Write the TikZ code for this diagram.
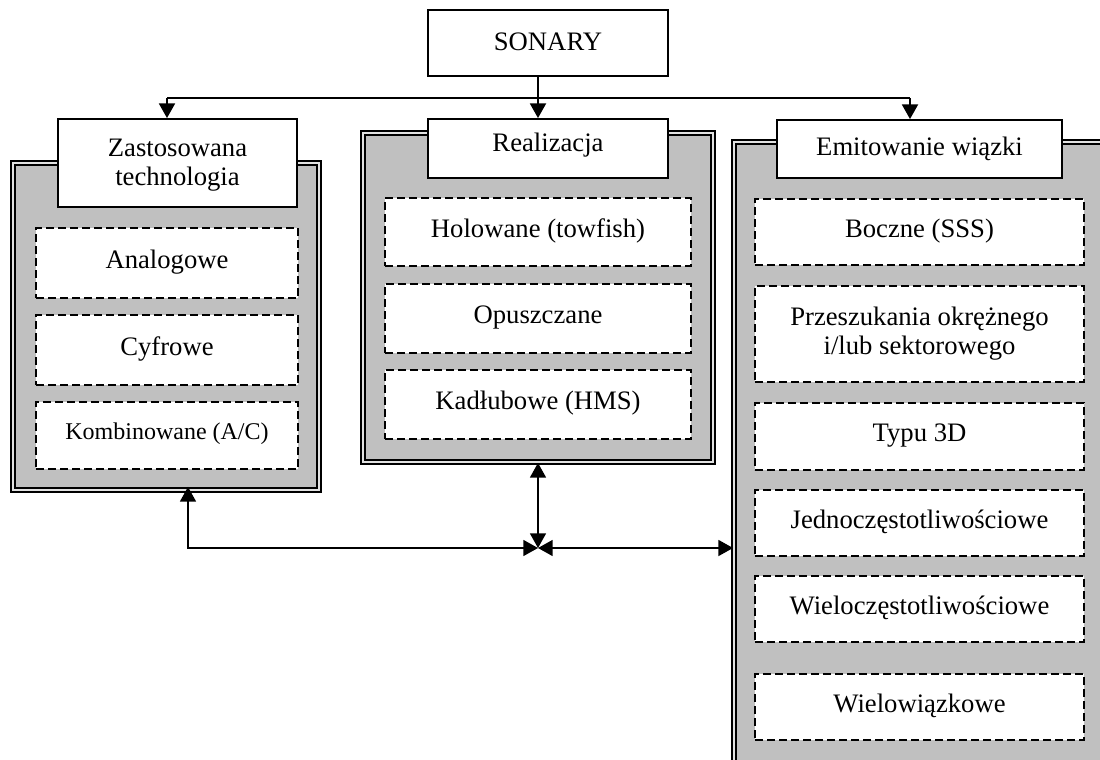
\documentclass[tikz,border=0pt]{standalone}
\usepackage{fontspec}
\setmainfont{Liberation Serif}
\usetikzlibrary{arrows.meta,calc,fit}
\definecolor{framefill}{RGB}{192,192,192}
\definecolor{framegap}{RGB}{226,226,226}
\begin{document}
\begin{tikzpicture}[x=0.75pt,y=-0.75pt,
  frame/.style={draw=black, line width=1.4pt, double=framegap, double distance=1.5pt, fill=framefill, inner sep=0pt},
  headbox/.style={draw=black, line width=1.4pt, fill=white, inner sep=0pt},
  itembox/.style={draw=black, line width=1.4pt, dash pattern=on 6pt off 3pt, fill=white, inner sep=0pt},
  txt/.style={anchor=base, inner sep=0pt, font=\fontsize{20}{24}\selectfont},
  smalltxt/.style={anchor=base, inner sep=0pt, font=\fontsize{18}{22}\selectfont},
  tip/.tip={Triangle[length=11pt,width=12pt]},
  arr/.style={line width=1.4pt, -tip},
  darr/.style={line width=1.1pt, tip-tip},
]
\useasboundingbox (0,0) rectangle (1100,760);
\clip (0,0) rectangle (1100,760);

% frames
\node[frame, fit={(13,163) (319,490)}] (lf) {};
\node[frame, fit={(363,133) (713,462)}] (mf) {};
\node[frame, fit={(734,142) (1112,772)}] (rf) {};

% header boxes
\node[headbox, fit={(428,10) (668,76)}] (sonary) {};
\node[headbox, fit={(58,119) (297,207)}] (hz) {};
\node[headbox, fit={(428,119) (668,178)}] (hr) {};
\node[headbox, fit={(777,120) (1062,178)}] (he) {};

% item boxes
\node[itembox, fit={(36,228) (298,298)}] (a1) {};
\node[itembox, fit={(36,315) (298,385)}] (a2) {};
\node[itembox, fit={(36,402) (298,469)}] (a3) {};

\node[itembox, fit={(385,198) (691,266)}] (b1) {};
\node[itembox, fit={(385,284) (691,353)}] (b2) {};
\node[itembox, fit={(385,370) (691,439)}] (b3) {};

\node[itembox, fit={(755,199) (1084,265)}] (c1) {};
\node[itembox, fit={(755,286) (1084,382)}] (c2) {};
\node[itembox, fit={(755,403) (1084,470)}] (c3) {};
\node[itembox, fit={(755,490) (1084,556)}] (c4) {};
\node[itembox, fit={(755,576) (1084,642)}] (c5) {};
\node[itembox, fit={(755,674) (1084,740)}] (c6) {};

% texts
\node[txt] (tsonary) at ($(sonary.center)+(0,7)$) {SONARY};
\node[txt] (thz1) at ($(hz.center)+(0,-7)$) {Zastosowana};
\node[txt] (thz2) at ($(hz.center)+(0,22)$) {technologia};
\node[txt] (thr) at ($(hr.center)+(0,2.5)$) {Realizacja};
\node[txt] (the) at ($(he.center)+(0,6)$) {Emitowanie wiązki};

\node[txt] (ta1) at ($(a1.center)+(0,5)$) {Analogowe};
\node[txt] (ta2) at ($(a2.center)+(0,5)$) {Cyfrowe};
\node[smalltxt] (ta3) at ($(a3.center)+(0,4)$) {Kombinowane (A/C)};

\node[txt] (tb1) at ($(b1.center)+(0,5)$) {Holowane (towfish)};
\node[txt] (tb2) at ($(b2.center)+(0,5)$) {Opuszczane};
\node[txt] (tb3) at ($(b3.center)+(0,5)$) {Kadłubowe (HMS)};

\node[txt] (tc1) at ($(c1.center)+(0,5)$) {Boczne (SSS)};
\node[txt] (tc2a) at ($(c2.center)+(0,-9)$) {Przeszukania okrężnego};
\node[txt] (tc2b) at ($(c2.center)+(0,20)$) {i/lub sektorowego};
\node[txt] (tc3) at ($(c3.center)+(0,5)$) {Typu 3D};
\node[txt] (tc4) at ($(c4.center)+(0,5)$) {Jednoczęstotliwościowe};
\node[txt] (tc5) at ($(c5.center)+(0,5)$) {Wieloczęstotliwościowe};
\node[txt] (tc6) at ($(c6.center)+(0,5)$) {Wielowiązkowe};

% top connectors
\coordinate (busL) at (167,98);
\coordinate (busM) at (538,98);
\coordinate (busR) at (910,98);
\draw[line width=1.4pt] (busL) -- (busR);
\draw[arr] (sonary.south -| busM) -- (hr.north -| busM);
\draw[arr] (busL) -- (hz.north -| busL);
\draw[arr] (busR) -- (he.north -| busR);

% bottom connectors
\coordinate (J) at (538,548);
\coordinate (lx) at (188,548);
\draw[darr, shorten <=-3pt] (lf.south -| lx) -- (lx) -- (J);
\draw[darr] (mf.south -| J) -- (J);
\draw[darr] (J) -- (J -| rf.west);
\end{tikzpicture}
\end{document}
